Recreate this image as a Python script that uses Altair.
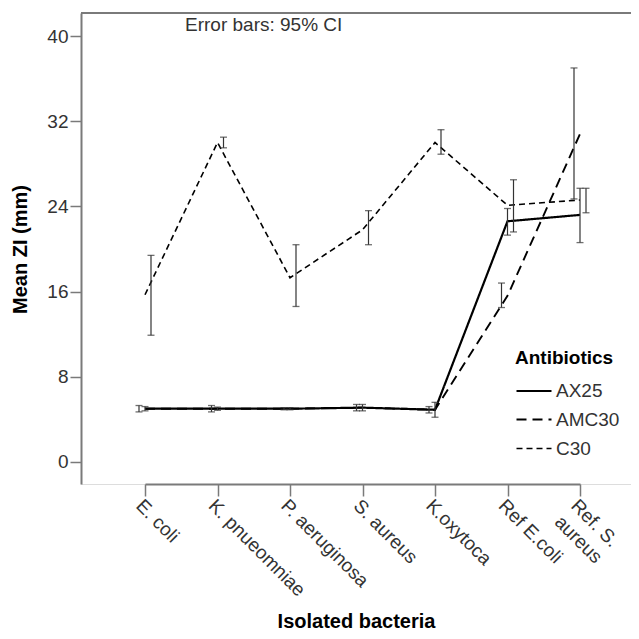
import altair as alt
import pandas as pd

categories = ["E. coli", "K. pnueomniae", "P. aeruginosa", "S. aureus",
              "K.oxytoca", "Ref E.coli", "Ref. S. aureus"]
series_names = ["AX25", "AMC30", "C30"]

ax25_mean = [5.0, 5.0, 5.0, 5.1, 4.9, 22.6, 23.2]
ax25_lo = [4.8, 4.85, 4.9, 4.8, 4.2, 21.3, 20.6]
ax25_hi = [5.2, 5.15, 5.1, 5.4, 5.6, 23.8, 25.7]

amc30_mean = [5.0, 5.0, 5.0, 5.1, 4.9, 15.6, 30.8]
amc30_lo = [4.7, 4.7, 4.9, 4.8, 4.6, 14.5, 24.7]
amc30_hi = [5.3, 5.3, 5.1, 5.4, 5.2, 16.8, 37.0]

c30_mean = [15.7, 30.0, 17.3, 21.8, 30.0, 24.1, 24.6]
c30_lo = [11.9, 29.5, 14.6, 20.4, 28.9, 21.6, 23.4]
c30_hi = [19.4, 30.5, 20.4, 23.6, 31.2, 26.5, 25.7]

y_ticks = [0, 8, 16, 24, 32, 40]

rows = []
for name, m, lo, hi in [("AX25", ax25_mean, ax25_lo, ax25_hi),
                        ("AMC30", amc30_mean, amc30_lo, amc30_hi),
                        ("C30", c30_mean, c30_lo, c30_hi)]:
    for c, mv, l, h in zip(categories, m, lo, hi):
        rows.append({"cat": c, "series": name, "mean": mv, "lo": l, "hi": h})
df = pd.DataFrame(rows)

W, H = 550, 471
FONT = "Liberation Sans"
GRAY = "#7a7a7a"
TXT = "#333333"
BAR = "#333333"

x_axis = alt.Axis(
    title="Isolated bacteria", titleFont=FONT, titleFontSize=20, titleFontWeight="bold",
    titleColor="black", titleX=275, titleY=143, titleBaseline="alphabetic", titleAlign="center",
    labelAngle=45, labelAlign="left", labelBaseline="top", labelFont=FONT, labelFontSize=19,
    labelColor=TXT, labelPadding=0, labelLineHeight=23, labelOverlap=False, labelLimit=300,
    labelExpr="datum.label == 'Ref. S. aureus' ? ['Ref. S.', 'aureus'] : datum.label",
    domainColor=GRAY, domainWidth=2, tickColor=GRAY, tickWidth=1.5, tickSize=12, grid=False,
)
y_axis = alt.Axis(
    title="Mean ZI (mm)", titleFont=FONT, titleFontSize=20, titleFontWeight="bold",
    titleColor="black", titleX=-61, titleY=236, titleAngle=-90, titleAlign="center",
    titleBaseline="middle",
    values=y_ticks, labelFont=FONT, labelFontSize=19, labelColor=TXT, labelPadding=2,
    domainColor=GRAY, domainWidth=2, tickColor=GRAY, tickWidth=1.5, tickSize=11, grid=False,
)

x_enc = alt.X("cat:N", sort=categories,
              scale=alt.Scale(type="point", domain=categories, range=[64, 499], padding=0),
              axis=x_axis)
y_scale = alt.Scale(domain=[-2.07, 42.16], nice=False, zero=False)
xoff = alt.XOffset("series:N",
                   scale=alt.Scale(type="point", domain=["AMC30", "AX25", "C30"],
                                   range=[-6, 6], padding=0))

lines = alt.Chart(df).mark_line(color="black").encode(
    x=x_enc,
    y=alt.Y("mean:Q", scale=y_scale, axis=y_axis),
    strokeDash=alt.StrokeDash(
        "series:N",
        scale=alt.Scale(domain=series_names, range=[[1, 0], [10, 6], [6, 4]]),
        legend=alt.Legend(
            title="Antibiotics", orient="none", legendX=434, legendY=336,
            titleFont=FONT, titleFontSize=19, titleFontWeight="bold", titleColor="black",
            titlePadding=4, labelFont=FONT, labelFontSize=19, labelColor=TXT,
            symbolType="stroke", symbolSize=1225, symbolStrokeWidth=2.2,
            symbolStrokeColor="black", labelOffset=3, rowPadding=-10, padding=0,
        ),
    ),
    strokeWidth=alt.StrokeWidth(
        "series:N", scale=alt.Scale(domain=series_names, range=[2.2, 1.6, 2.8]), legend=None
    ),
)

bars = alt.Chart(df).mark_rule(color=BAR, strokeWidth=1.2).encode(
    x=x_enc, xOffset=xoff,
    y=alt.Y("lo:Q", scale=y_scale), y2="hi:Q",
)
caps_lo = alt.Chart(df).mark_tick(color=BAR, orient="horizontal", size=7, thickness=1.3).encode(
    x=x_enc, xOffset=xoff, y=alt.Y("lo:Q", scale=y_scale),
)
caps_hi = alt.Chart(df).mark_tick(color=BAR, orient="horizontal", size=7, thickness=1.3).encode(
    x=x_enc, xOffset=xoff, y=alt.Y("hi:Q", scale=y_scale),
)

top_line = alt.Chart(pd.DataFrame({"k": [0]})).mark_rule(color=GRAY, strokeWidth=2).encode(
    x=alt.value(0), x2=alt.value(W), y=alt.value(0)
)
note = alt.Chart(pd.DataFrame({"t": ["Error bars: 95% CI"]})).mark_text(
    font=FONT, fontSize=19, color=TXT, align="left", baseline="alphabetic"
).encode(text="t:N", x=alt.value(104), y=alt.value(18))

chart = alt.layer(lines, bars, caps_lo, caps_hi, top_line, note).properties(
    width=W, height=H,
    autosize=alt.AutoSizeParams(type="none"),
    padding={"left": 73, "top": 5, "right": 0, "bottom": 150},
).configure_view(stroke=None).configure(background="white")

chart.save("out.html", embed_options={"renderer": "svg", "actions": False})
